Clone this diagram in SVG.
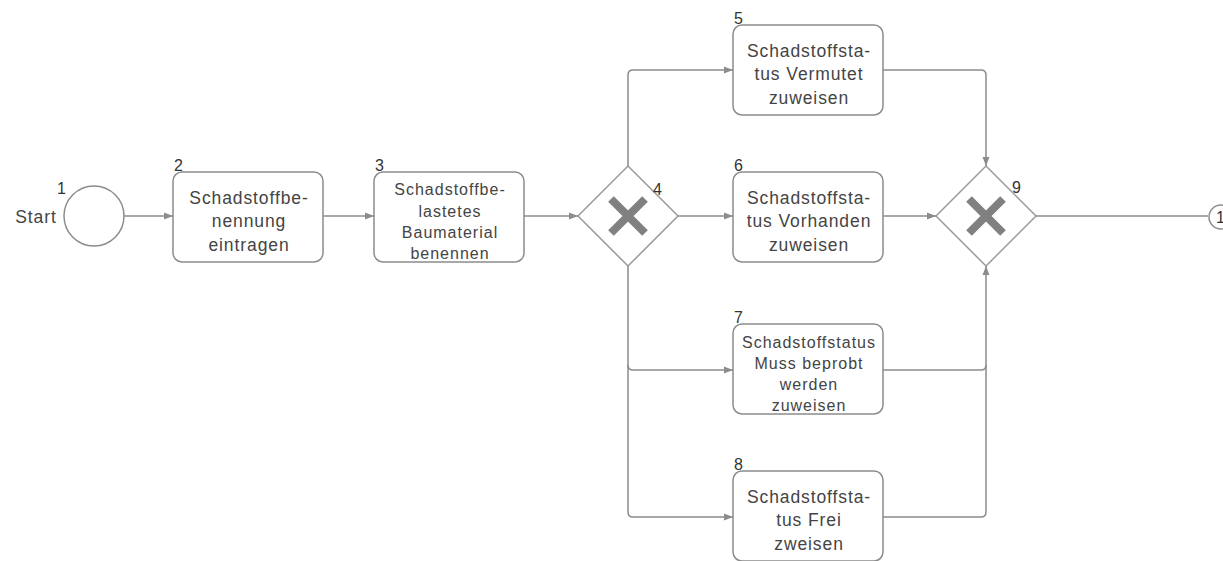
<svg xmlns="http://www.w3.org/2000/svg" width="1223" height="561" viewBox="0 0 1223 561">
<style>
.box{fill:#fff;stroke:#8c8c8c;stroke-width:1.5}
.gw{fill:#fff;stroke:#9a9a9a;stroke-width:1.5}
.xm{stroke:#808080;stroke-width:8;stroke-linecap:butt}
.t{font-family:"Liberation Sans",Arial,sans-serif;font-size:17.5px;letter-spacing:0.9px;fill:#444;text-anchor:middle}
.ts{font-family:"Liberation Sans",Arial,sans-serif;font-size:16px;letter-spacing:1px;fill:#444;text-anchor:middle}
.n{font-family:"Liberation Sans",Arial,sans-serif;font-size:16px;fill:#333}
.c{fill:none;stroke:#8c8c8c;stroke-width:1.5}
</style>
<defs>
<marker id="ah" markerWidth="10" markerHeight="8" refX="9" refY="4" orient="auto" markerUnits="userSpaceOnUse">
<path d="M0,0.5 L9,4 L0,7.5 z" fill="#8c8c8c"/>
</marker>
</defs>
<rect width="1223" height="561" fill="#fff"/>
<g id="connectors">
<path class="c" d="M124,216 H173" marker-end="url(#ah)"/>
<path class="c" d="M323,216 H374" marker-end="url(#ah)"/>
<path class="c" d="M524,216 H578" marker-end="url(#ah)"/>
<path class="c" d="M628,166 V75 Q628,70 633,70 H733" marker-end="url(#ah)"/>
<path class="c" d="M678,216 H733" marker-end="url(#ah)"/>
<path class="c" d="M628,266 V365 Q628,370 633,370 H733" marker-end="url(#ah)"/>
<path class="c" d="M628,365 V512 Q628,517 633,517 H733" marker-end="url(#ah)"/>
<path class="c" d="M883,70 H981 Q986,70 986,75 V166" marker-end="url(#ah)"/>
<path class="c" d="M883,216 H936" marker-end="url(#ah)"/>
<path class="c" d="M883,370 H981 Q986,370 986,365 V266" marker-end="url(#ah)"/>
<path class="c" d="M883,517 H981 Q986,517 986,512 V365"/>
<path class="c" d="M1036,216 H1208"/>
</g>
<g id="n1">
<circle cx="94" cy="216" r="30" fill="#fff" stroke="#8c8c8c" stroke-width="1.5"/>
<text class="n" x="57" y="194">1</text>
<text class="t" x="36" y="223">Start</text>
</g>
<g id="n2">
<rect class="box" x="173" y="172" width="150" height="90" rx="9"/>
<text class="n" x="174" y="171">2</text>
<text class="t" x="249" y="204">Schadstoffbe-</text>
<text class="t" x="249" y="227">nennung</text>
<text class="t" x="249" y="251">eintragen</text>
</g>
<g id="n3">
<rect class="box" x="374" y="172" width="150" height="90" rx="9"/>
<text class="n" x="375" y="171">3</text>
<text class="ts" x="450" y="195">Schadstoffbe-</text>
<text class="ts" x="450" y="217">lastetes</text>
<text class="ts" x="450" y="238">Baumaterial</text>
<text class="ts" x="450" y="259">benennen</text>
</g>
<g id="n4">
<path class="gw" d="M628,166 L678,216 L628,266 L578,216 z"/>
<path class="xm" d="M611,199 L645,233 M645,199 L611,233"/>
<text class="n" x="653" y="195">4</text>
</g>
<g id="n5">
<rect class="box" x="733" y="25" width="150" height="90" rx="9"/>
<text class="n" x="734" y="24">5</text>
<text class="t" x="809" y="57">Schadstoffsta-</text>
<text class="t" x="809" y="80">tus Vermutet</text>
<text class="t" x="809" y="104">zuweisen</text>
</g>
<g id="n6">
<rect class="box" x="733" y="172" width="150" height="90" rx="9"/>
<text class="n" x="734" y="171">6</text>
<text class="t" x="809" y="204">Schadstoffsta-</text>
<text class="t" x="809" y="227">tus Vorhanden</text>
<text class="t" x="809" y="251">zuweisen</text>
</g>
<g id="n7">
<rect class="box" x="733" y="324" width="150" height="90" rx="9"/>
<text class="n" x="734" y="323">7</text>
<text class="ts" x="809" y="348">Schadstoffstatus</text>
<text class="ts" x="809" y="369">Muss beprobt</text>
<text class="ts" x="809" y="390">werden</text>
<text class="ts" x="809" y="411">zuweisen</text>
</g>
<g id="n8">
<rect class="box" x="733" y="471" width="150" height="90" rx="9"/>
<text class="n" x="734" y="470">8</text>
<text class="t" x="809" y="503">Schadstoffsta-</text>
<text class="t" x="809" y="526">tus Frei</text>
<text class="t" x="809" y="550">zweisen</text>
</g>
<g id="n9">
<path class="gw" d="M986,166 L1036,216 L986,266 L936,216 z"/>
<path class="xm" d="M969,199 L1003,233 M1003,199 L969,233"/>
<text class="n" x="1012" y="193">9</text>
</g>
<g id="n10">
<circle cx="1221" cy="217" r="12" fill="#fff" stroke="#8c8c8c" stroke-width="1.5"/>
<text class="n" x="1216" y="223">1</text>
</g>
</svg>
